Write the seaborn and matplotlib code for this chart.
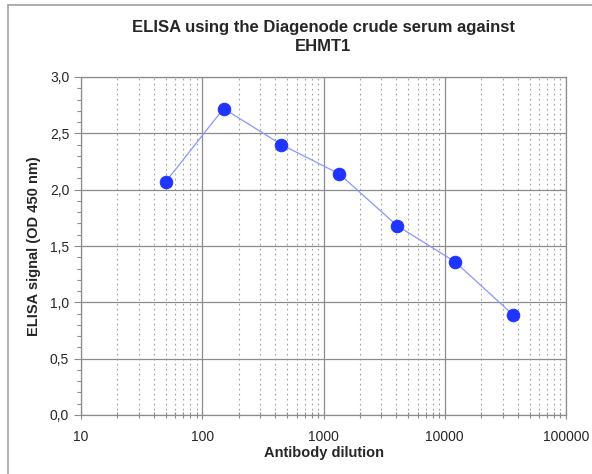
import matplotlib
matplotlib.use("Agg")
import matplotlib.pyplot as plt
import matplotlib.ticker as mticker
from matplotlib.patches import Rectangle
import seaborn as sns
import pandas as pd
import numpy as np

dilution = [50, 150, 450, 1350, 4050, 12150, 36450]
signal = [2.07, 2.72, 2.40, 2.14, 1.68, 1.36, 0.89]
title = "ELISA using the Diagenode crude serum against\nEHMT1"
xlabel = "Antibody dilution"
ylabel = "ELISA signal (OD 450 nm)"

sns.set_style("white")
plt.rcParams['font.family'] = ['Liberation Sans', 'DejaVu Sans']

df = pd.DataFrame({"dilution": dilution, "signal": signal})

fig = plt.figure(figsize=(5.92, 4.74), dpi=100)
ax = fig.add_axes([81/592, 1-415/474, (566-81)/592, (415-77)/474])

sns.lineplot(data=df, x="dilution", y="signal", ax=ax, color="#8a96ff", linewidth=0.9,
             marker="o", markersize=9, markerfacecolor="#1f35ff", markeredgecolor="#1f35ff",
             zorder=5)

ax.set_xscale("log")
ax.set_xlim(10, 100000)
ax.set_ylim(0, 3.0)
ax.xaxis.set_major_locator(mticker.LogLocator(base=10, numticks=10))
ax.xaxis.set_minor_locator(mticker.LogLocator(base=10, subs=np.arange(2, 10), numticks=20))
ax.xaxis.set_major_formatter(mticker.FuncFormatter(lambda v, p: f"{int(round(v))}"))
ax.xaxis.set_minor_formatter(mticker.NullFormatter())
ax.yaxis.set_major_locator(mticker.MultipleLocator(0.5))
ax.yaxis.set_minor_locator(mticker.MultipleLocator(0.1))
ax.yaxis.set_major_formatter(mticker.FuncFormatter(lambda v, p: f"{v:.1f}".replace(".", ",")))

ax.grid(which="major", axis="both", color="#8c8c8c", linewidth=0.9, linestyle="-")
ax.grid(which="minor", axis="x", color="#a0a0a0", linewidth=0.8, linestyle=(0, (1.5, 3)))
ax.set_axisbelow(True)

for s in ax.spines.values():
    s.set_color("#8c8c8c")
    s.set_linewidth(0.9)

ax.tick_params(axis="x", which="both", direction="inout", length=6, width=0.8, color="#8c8c8c",
               labelsize=10, pad=8, bottom=True)
ax.tick_params(axis="x", which="minor", length=5)
ax.tick_params(axis="y", which="major", direction="out", length=5, width=0.8, color="#8c8c8c",
               labelsize=10, left=True)
ax.tick_params(axis="y", which="minor", direction="out", length=3, width=0.8, color="#8c8c8c", left=True)

ax.set_xlabel(xlabel, fontsize=10.5, fontweight="bold", labelpad=1)
ax.set_ylabel(ylabel, fontsize=10.5, fontweight="bold", labelpad=6)

fig.text(323/592, 1-37/474, title, ha="center", va="center", fontsize=12, fontweight="bold",
         linespacing=1.3)

fig.patches.append(Rectangle((8/592, -0.1), 1.2, 1 - 5/474 + 0.1, transform=fig.transFigure,
                             fill=False, edgecolor="#a0a0a0", linewidth=1.2, clip_on=False))

fig.savefig("out.png", dpi=100)
